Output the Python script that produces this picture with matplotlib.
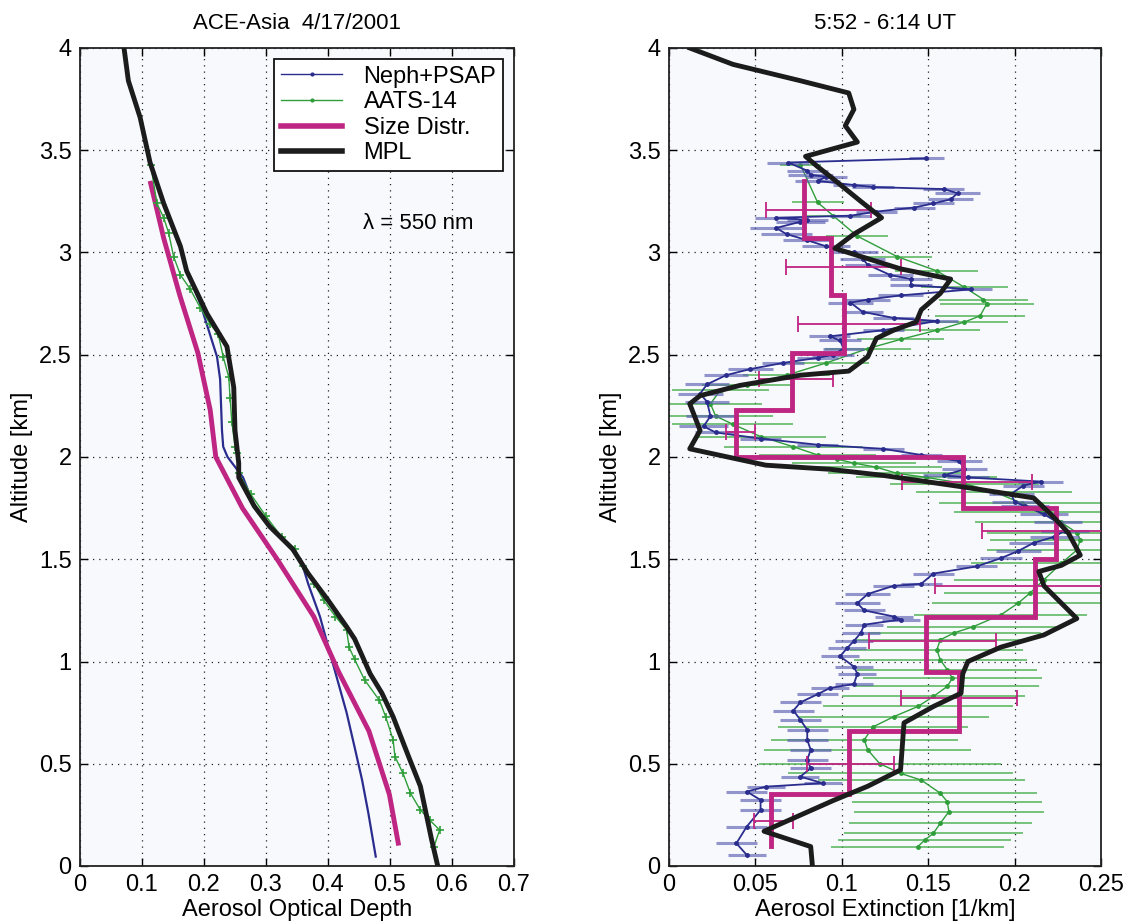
import numpy as np
import matplotlib
matplotlib.use("Agg")
import matplotlib.pyplot as plt
from matplotlib.lines import Line2D

plt.rcParams['font.family'] = ['Liberation Sans', 'DejaVu Sans']

# ---------------- Left panel: Aerosol optical depth ----------------
mpl_aod_alt = [4.00, 3.84, 3.66, 3.44, 3.24, 3.03, 2.91, 2.70, 2.54, 2.34, 2.13, 1.97,
               1.90, 1.76, 1.66, 1.55, 1.43, 1.30, 1.17, 1.11, 0.94, 0.845, 0.73,
               0.535, 0.39, 0.26, 0.13, 0.0]
mpl_aod = [0.071, 0.078, 0.097, 0.113, 0.135, 0.162, 0.172, 0.205, 0.237, 0.248, 0.250, 0.256,
           0.256, 0.281, 0.306, 0.343, 0.368, 0.400, 0.430, 0.443, 0.468, 0.487, 0.505,
           0.530, 0.549, 0.558, 0.567, 0.577]

neph_aod_alt = [3.45, 3.24, 3.03, 2.91, 2.75, 2.49, 2.38, 2.13, 2.05, 2.00, 1.90, 1.76,
                1.66, 1.50, 1.38, 1.22, 1.01, 0.88, 0.75, 0.58, 0.42, 0.26, 0.046]
neph_aod = [0.111, 0.135, 0.162, 0.172, 0.194, 0.221, 0.226, 0.229, 0.231, 0.238, 0.263, 0.281,
            0.306, 0.356, 0.368, 0.387, 0.406, 0.418, 0.430, 0.443, 0.455, 0.465, 0.477]

aats_aod_alt = [3.43, 3.24, 3.17, 3.095, 2.98, 2.89, 2.82, 2.73, 2.65, 2.60, 2.49, 2.39,
                2.29, 2.17, 2.05, 2.02, 1.92, 1.82, 1.71, 1.61, 1.55, 1.465, 1.38, 1.30,
                1.22, 1.155, 1.07, 1.01, 0.91, 0.81, 0.73, 0.617, 0.535, 0.453, 0.356,
                0.274, 0.225, 0.176, 0.095]
aats_aod = [0.114, 0.124, 0.135, 0.143, 0.151, 0.162, 0.178, 0.194, 0.210, 0.223, 0.231, 0.240,
            0.242, 0.245, 0.250, 0.253, 0.256, 0.275, 0.300, 0.325, 0.347, 0.359, 0.378, 0.393,
            0.412, 0.430, 0.434, 0.443, 0.459, 0.483, 0.493, 0.505, 0.508, 0.521, 0.533,
            0.549, 0.564, 0.580, 0.571]

sd_aod_alt = [3.35, 3.07, 2.79, 2.51, 2.23, 2.00, 1.75, 1.50, 1.22, 0.95, 0.66, 0.35, 0.10]
sd_aod = [0.113, 0.135, 0.161, 0.190, 0.210, 0.219, 0.262, 0.318, 0.377, 0.417, 0.466, 0.499, 0.514]

# ---------------- Right panel: Aerosol extinction ----------------
mpl_ext_alt = [4.00, 3.92, 3.84, 3.78, 3.70, 3.62, 3.54, 3.47, 3.42, 3.36, 3.25, 3.17, 3.09,
               3.02, 2.97, 2.92, 2.87, 2.80, 2.72, 2.66, 2.62, 2.58, 2.49, 2.42, 2.40,
               2.35, 2.30, 2.26, 2.13, 2.04, 1.96, 1.94, 1.91, 1.85, 1.82, 1.80, 1.72,
               1.63, 1.52, 1.47, 1.44, 1.37, 1.21, 1.13, 1.07, 1.00, 0.94, 0.845, 0.78,
               0.70, 0.47, 0.39, 0.32, 0.17, 0.095, 0.0]
mpl_ext = [0.012, 0.037, 0.076, 0.104, 0.107, 0.102, 0.109, 0.079, 0.086, 0.095, 0.111, 0.123, 0.107,
           0.096, 0.115, 0.134, 0.163, 0.157, 0.146, 0.143, 0.130, 0.120, 0.115, 0.104, 0.076,
           0.041, 0.018, 0.012, 0.018, 0.012, 0.056, 0.093, 0.124, 0.173, 0.196, 0.211, 0.221,
           0.231, 0.238, 0.227, 0.214, 0.217, 0.236, 0.217, 0.192, 0.173, 0.170, 0.169, 0.153,
           0.136, 0.134, 0.115, 0.095, 0.055, 0.082, 0.083]

neph_ext_alt = [3.46, 3.44, 3.40, 3.38, 3.37, 3.35, 3.33, 3.32, 3.31, 3.29, 3.26, 3.24, 3.22,
                3.20, 3.18, 3.17, 3.16, 3.15, 3.12, 3.09, 3.06, 3.03, 3.00, 2.97, 2.94, 2.89,
                2.87, 2.84, 2.82, 2.79, 2.77, 2.755, 2.71, 2.68, 2.665, 2.62, 2.59, 2.57,
                2.53, 2.50, 2.485, 2.46, 2.43, 2.40, 2.355, 2.31, 2.27, 2.20, 2.15, 2.12,
                2.09, 2.06, 2.04, 2.01, 1.98, 1.94, 1.91, 1.90, 1.88, 1.86, 1.82, 1.78,
                1.76, 1.72, 1.68, 1.64, 1.61, 1.58, 1.54, 1.505, 1.465, 1.43, 1.38, 1.37,
                1.33, 1.285, 1.25, 1.22, 1.205, 1.18, 1.14, 1.10, 1.065, 1.025, 0.975,
                0.94, 0.89, 0.87, 0.84, 0.80, 0.76, 0.715, 0.666, 0.617, 0.568, 0.52,
                0.478, 0.437, 0.405, 0.388, 0.364, 0.323, 0.274, 0.193, 0.111, 0.054]
neph_ext = [0.149, 0.069, 0.080, 0.082, 0.091, 0.086, 0.107, 0.118, 0.159, 0.167, 0.163, 0.153, 0.142,
            0.120, 0.105, 0.062, 0.080, 0.076, 0.062, 0.068, 0.080, 0.091, 0.107, 0.112, 0.115, 0.128,
            0.140, 0.140, 0.175, 0.134, 0.115, 0.105, 0.112, 0.130, 0.155, 0.124, 0.093, 0.099,
            0.101, 0.095, 0.086, 0.066, 0.047, 0.033, 0.022, 0.018, 0.022, 0.024, 0.020, 0.027,
            0.053, 0.086, 0.124, 0.146, 0.168, 0.171, 0.159, 0.173, 0.215, 0.205, 0.198, 0.200,
            0.206, 0.217, 0.225, 0.229, 0.223, 0.211, 0.202, 0.192, 0.178, 0.153, 0.146, 0.130,
            0.115, 0.109, 0.113, 0.130, 0.134, 0.113, 0.111, 0.107, 0.103, 0.099, 0.107,
            0.109, 0.107, 0.093, 0.086, 0.076, 0.072, 0.076, 0.080, 0.080, 0.082, 0.080,
            0.082, 0.076, 0.089, 0.056, 0.045, 0.053, 0.053, 0.045, 0.039, 0.045]
neph_ext_err = [0.010, 0.012, 0.012, 0.013, 0.012, 0.013, 0.012, 0.012, 0.012, 0.013, 0.013, 0.012, 0.012,
                0.012, 0.012, 0.012, 0.012, 0.014, 0.015, 0.015, 0.014, 0.014, 0.014, 0.013, 0.013, 0.013,
                0.012, 0.012, 0.012, 0.013, 0.013, 0.013, 0.012, 0.012, 0.012, 0.012, 0.012, 0.012,
                0.012, 0.012, 0.012, 0.012, 0.013, 0.013, 0.013, 0.013, 0.013, 0.014, 0.014, 0.012,
                0.012, 0.012, 0.012, 0.012, 0.013, 0.013, 0.012, 0.012, 0.013, 0.012, 0.013, 0.013,
                0.014, 0.014, 0.014, 0.014, 0.014, 0.014, 0.013, 0.012, 0.012, 0.012, 0.012, 0.012,
                0.013, 0.013, 0.012, 0.011, 0.011, 0.011, 0.011, 0.011, 0.011, 0.011, 0.011,
                0.011, 0.011, 0.011, 0.012, 0.012, 0.012, 0.012, 0.012, 0.012, 0.012, 0.012,
                0.012, 0.011, 0.011, 0.011, 0.012, 0.012, 0.012, 0.012, 0.012, 0.011]

aats_ext_alt = [3.43, 3.245, 3.18, 3.08, 2.98, 2.91, 2.83, 2.77, 2.75, 2.69, 2.66, 2.62, 2.575,
                2.53, 2.46, 2.40, 2.35, 2.33, 2.26, 2.20, 2.16, 2.10, 2.05, 2.01, 1.99, 1.97,
                1.95, 1.92, 1.90, 1.87, 1.83, 1.775, 1.73, 1.68, 1.63, 1.595, 1.545, 1.48,
                1.40, 1.335, 1.285, 1.228, 1.17, 1.14, 1.106, 1.057, 1.008, 0.96, 0.918,
                0.878, 0.829, 0.78, 0.73, 0.68, 0.617, 0.568, 0.50, 0.453, 0.42, 0.356,
                0.315, 0.266, 0.209, 0.16, 0.127, 0.095]
aats_ext = [0.076, 0.086, 0.095, 0.109, 0.132, 0.155, 0.171, 0.182, 0.184, 0.180, 0.171, 0.155, 0.134,
            0.115, 0.091, 0.068, 0.045, 0.030, 0.024, 0.027, 0.037, 0.053, 0.072, 0.086, 0.097, 0.107,
            0.120, 0.132, 0.149, 0.171, 0.188, 0.204, 0.215, 0.227, 0.236, 0.238, 0.236, 0.227,
            0.217, 0.209, 0.202, 0.192, 0.176, 0.165, 0.157, 0.155, 0.157, 0.161, 0.164,
            0.161, 0.153, 0.144, 0.130, 0.118, 0.113, 0.115, 0.122, 0.134, 0.146, 0.157,
            0.161, 0.162, 0.157, 0.153, 0.148, 0.144]
aats_ext_err = [0.012, 0.015, 0.016, 0.018, 0.020, 0.024, 0.025, 0.026, 0.027, 0.026, 0.025, 0.025, 0.025,
                0.025, 0.025, 0.025, 0.026, 0.028, 0.030, 0.033, 0.035, 0.038, 0.040, 0.034, 0.034, 0.036,
                0.038, 0.040, 0.041, 0.043, 0.045, 0.048, 0.050, 0.050, 0.052, 0.052, 0.052, 0.052,
                0.052, 0.050, 0.050, 0.050, 0.050, 0.050, 0.050, 0.050, 0.050, 0.052, 0.052,
                0.053, 0.053, 0.055, 0.055, 0.055, 0.054, 0.060, 0.070, 0.065, 0.060, 0.056,
                0.055, 0.055, 0.053, 0.052, 0.050, 0.050]

sd_ext_top = [3.35, 3.07, 2.79, 2.51, 2.23, 2.00, 1.75, 1.50, 1.22, 0.95, 0.66, 0.35]
sd_ext_bottom = 0.10
sd_ext = [0.078, 0.094, 0.101, 0.071, 0.039, 0.170, 0.224, 0.212, 0.149, 0.168, 0.104, 0.059]

sd_err_alt = [3.21, 2.93, 2.65, 2.38, 2.12, 1.88, 1.64, 1.37, 1.10, 0.82, 0.50, 0.22]
sd_err_lo = [0.056, 0.0675, 0.0745, 0.052, 0.033, 0.135, 0.181, 0.154, 0.116, 0.134, 0.080, 0.049]
sd_err_hi = [0.117, 0.134, 0.1455, 0.095, 0.050, 0.210, 0.268, 0.272, 0.189, 0.2015, 0.130, 0.072]

# ---------------- styling ----------------
C_BLUE = '#2b2d8e'
C_BLUE_ERR = '#5b5fb0'
C_GREEN = '#2f9e3a'
C_GREEN_ERR = '#45ad4a'
C_MAG = '#bf2582'
C_BLACK = '#1c1c1c'
AX_BG = '#f7f9fd'
FS = 17

fig = plt.figure(figsize=(11.28, 9.24), dpi=100)
axL = fig.add_axes([80/1128, 58/924, 434/1128, 818/924])
axR = fig.add_axes([669/1128, 58/924, 432/1128, 818/924])

for ax in (axL, axR):
    ax.set_facecolor(AX_BG)
    ax.grid(True, linestyle=(0, (1, 4)), color='#222222', linewidth=0.9)
    ax.set_axisbelow(True)
    ax.tick_params(direction='in', top=True, right=True, labelsize=FS,
                   length=6, width=1.0, pad=6)
    for s in ax.spines.values():
        s.set_linewidth(1.3)
        s.set_color('#222222')
    ax.set_ylim(0, 4)
    ax.set_yticks([0, 0.5, 1, 1.5, 2, 2.5, 3, 3.5, 4])
    ax.set_yticklabels(['0', '0.5', '1', '1.5', '2', '2.5', '3', '3.5', '4'])
    ax.set_ylabel('Altitude [km]', fontsize=FS, labelpad=4)

# Left panel
axL.set_xlim(0, 0.7)
axL.set_xticks([0, 0.1, 0.2, 0.3, 0.4, 0.5, 0.6, 0.7])
axL.set_xticklabels(['0', '0.1', '0.2', '0.3', '0.4', '0.5', '0.6', '0.7'])
axL.plot(neph_aod, neph_aod_alt, color=C_BLUE, lw=1.6, zorder=3)
axL.plot(aats_aod, aats_aod_alt, color=C_GREEN, lw=1.0, marker='+', ms=6, mew=1.2, zorder=4)
axL.plot(sd_aod, sd_aod_alt, color=C_MAG, lw=3.5, solid_capstyle='butt', zorder=3)
axL.plot(mpl_aod, mpl_aod_alt, color=C_BLACK, lw=3.5, zorder=5)
axL.set_xlabel('Aerosol Optical Depth', fontsize=FS, labelpad=2)
axL.set_title('ACE-Asia  4/17/2001', fontsize=FS - 1, pad=14)
axL.text(0.457, 3.14, '\u03bb = 550 nm', fontsize=FS - 1, ha='left', va='center',
         family=['Liberation Sans', 'DejaVu Sans'])

handles = [
    Line2D([], [], color=C_BLUE, lw=1.0, marker='.', ms=4),
    Line2D([], [], color=C_GREEN, lw=1.0, marker='.', ms=4),
    Line2D([], [], color=C_MAG, lw=4),
    Line2D([], [], color=C_BLACK, lw=4),
]
leg = axL.legend(handles, ['Neph+PSAP', 'AATS-14', 'Size Distr.', 'MPL'],
                 loc='upper right', fontsize=FS, frameon=True, fancybox=False,
                 edgecolor='#111111', framealpha=1.0, borderpad=0.3,
                 handlelength=2.6, handletextpad=0.9, labelspacing=0.15,
                 borderaxespad=0.45)
leg.get_frame().set_linewidth(1.3)
leg.get_frame().set_facecolor('white')

# Right panel
axR.set_xlim(0, 0.25)
axR.set_xticks([0, 0.05, 0.1, 0.15, 0.2, 0.25])
axR.set_xticklabels(['0', '0.05', '0.1', '0.15', '0.2', '0.25'])

axR.errorbar(aats_ext, aats_ext_alt, xerr=aats_ext_err, fmt='none',
             ecolor=C_GREEN_ERR, elinewidth=1.2, alpha=0.85, capsize=0, zorder=2)
axR.plot(aats_ext, aats_ext_alt, color=C_GREEN, lw=1.0, marker='.', ms=5, zorder=3)

axR.errorbar(neph_ext, neph_ext_alt, xerr=neph_ext_err, fmt='none',
             ecolor=C_BLUE_ERR, elinewidth=2.2, alpha=0.65, capsize=0, zorder=3)
axR.plot(neph_ext, neph_ext_alt, color=C_BLUE, lw=1.3, marker='.', ms=5, zorder=4)

# size-distribution step profile
tops = np.array(sd_ext_top)
bottoms = np.append(tops[1:], sd_ext_bottom)
vals = np.array(sd_ext)
step_y = np.ravel(np.column_stack([tops, bottoms]))
step_x = np.repeat(vals, 2)
axR.plot(step_x, step_y, color=C_MAG, lw=3.5, zorder=5, solid_joinstyle='miter')
lo = np.array(sd_err_lo)
hi = np.array(sd_err_hi)
axR.errorbar((lo + hi) / 2, sd_err_alt, xerr=(hi - lo) / 2, fmt='none',
             ecolor=C_MAG, elinewidth=1.3, capsize=6, capthick=1.3, zorder=5)

axR.plot(mpl_ext, mpl_ext_alt, color=C_BLACK, lw=3.5, zorder=6, clip_on=True)
axR.set_xlabel('Aerosol Extinction [1/km]', fontsize=FS, labelpad=2)
axR.set_title('5:52 - 6:14 UT', fontsize=FS - 1, pad=14)

fig.savefig('out.png', dpi=100, facecolor='white')
